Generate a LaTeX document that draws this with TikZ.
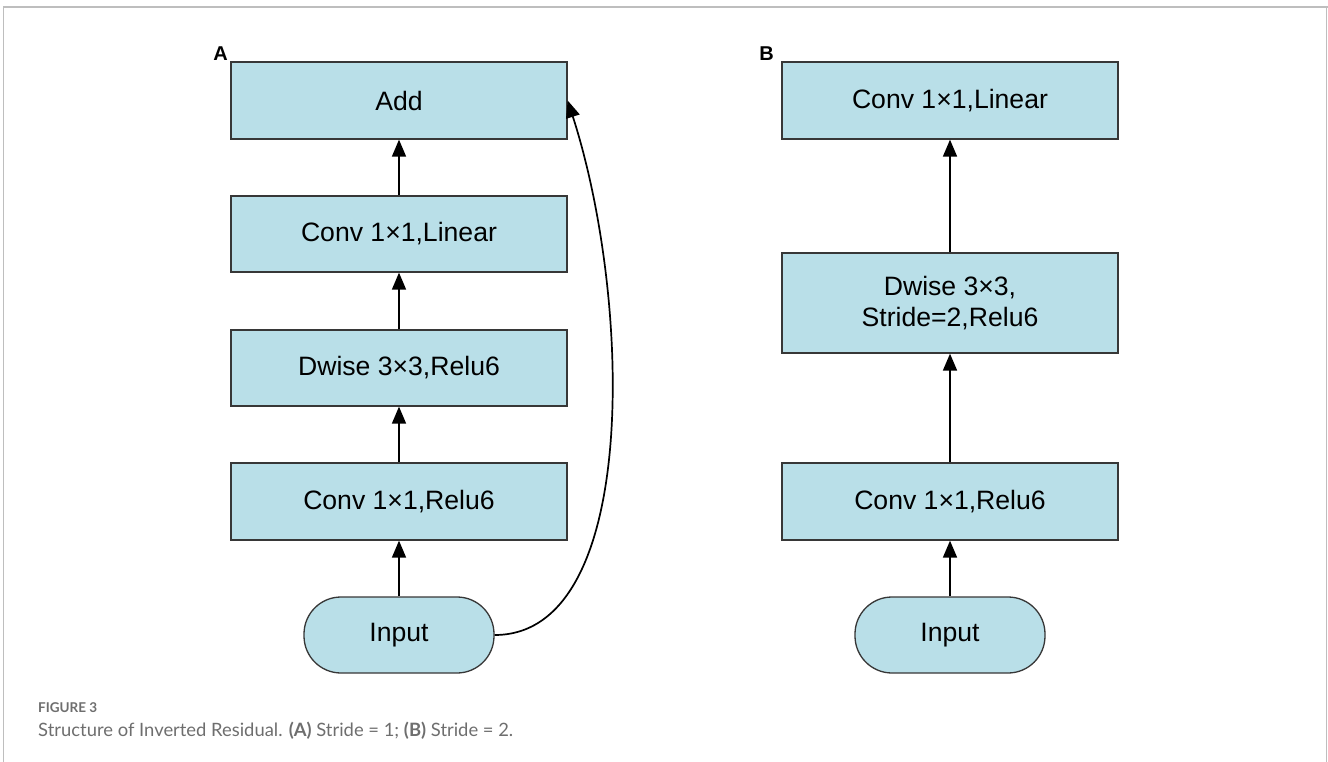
\documentclass[tikz,border=0pt]{standalone}
\usepackage{fontspec}
\setmainfont{Liberation Sans}
\newfontfamily\capfont{Lato}
\usetikzlibrary{arrows.meta}
\definecolor{boxfill}{RGB}{185,223,232}
\definecolor{boxline}{RGB}{55,55,55}
\definecolor{framegray}{RGB}{190,190,190}
\definecolor{capgray}{RGB}{110,110,110}
\tikzset{
  layer/.style={draw=boxline, line width=1.3pt, fill=boxfill, minimum width=336pt,
    inner sep=0pt, align=center, font=\fontsize{26.6}{31}\selectfont},
  pill/.style={draw=boxline, line width=1.3pt, fill=boxfill, minimum width=190pt,
    minimum height=76pt, rounded corners=37pt, inner sep=0pt, font=\fontsize{26.6}{31}\selectfont},
  flow/.style={line width=1.7pt, -{Triangle[width=14pt,length=17pt]}},
  panel/.style={font=\fontsize{20}{24}\selectfont\bfseries, inner sep=0pt}
}
\begin{document}
\begin{tikzpicture}[x=1pt,y=-1pt]
\useasboundingbox (0,0) rectangle (1328,762);
% page frame
\draw[framegray, line width=2.2pt] (3,7) -- (1328,7);
\draw[framegray, line width=1.2pt] (3.5,7) -- (3.5,762);
\draw[framegray, line width=1.2pt] (1326.5,7) -- (1326.5,762);

% panel A: stride 1 with shortcut
\node[layer, minimum height=77pt] (a4) at (399,100.5) {Add};
\node[layer, minimum height=76pt] (a3) at (399,234) {Conv 1×1,Linear};
\node[layer, minimum height=76pt] (a2) at (399,368) {Dwise 3×3,Relu6};
\node[layer, minimum height=77pt] (a1) at (399,501.5) {Conv 1×1,Relu6};
\node[pill] (a0) at (399,635) {Input};
\node[panel, anchor=south east] (la) at (228,61) {A};

\draw[flow] (a0) -- (a1);
\draw[flow] (a1) -- (a2);
\draw[flow] (a2) -- (a3);
\draw[flow] (a3) -- (a4);
\draw[flow] (a0.east) .. controls (640,635) and (632,300) .. (a4.east);

% panel B: stride 2
\node[layer, minimum height=77pt] (b3) at (950,100.5) {Conv 1×1,Linear};
\node[layer, minimum height=100pt] (b2) at (950,303) {Dwise 3×3,\\Stride=2,Relu6};
\node[layer, minimum height=77pt] (b1) at (950,501.5) {Conv 1×1,Relu6};
\node[pill] (b0) at (950,635) {Input};
\node[panel, anchor=south east] (lb) at (774,61) {B};

\draw[flow] (b0) -- (b1);
\draw[flow] (b1) -- (b2);
\draw[flow] (b2) -- (b3);

% caption
\node[anchor=base west, inner sep=0pt, text=capgray, font=\capfont\fontsize{13.5}{16}\selectfont\bfseries] (cap1) at (38,712) {FIGURE 3};
\node[anchor=base west, inner sep=0pt, text=capgray, font=\capfont\fontsize{18.4}{22}\selectfont] (cap2) at (38,736)
  {Structure of Inverted Residual. \textbf{(A)} Stride = 1; \textbf{(B)} Stride = 2.};
\end{tikzpicture}
\end{document}
